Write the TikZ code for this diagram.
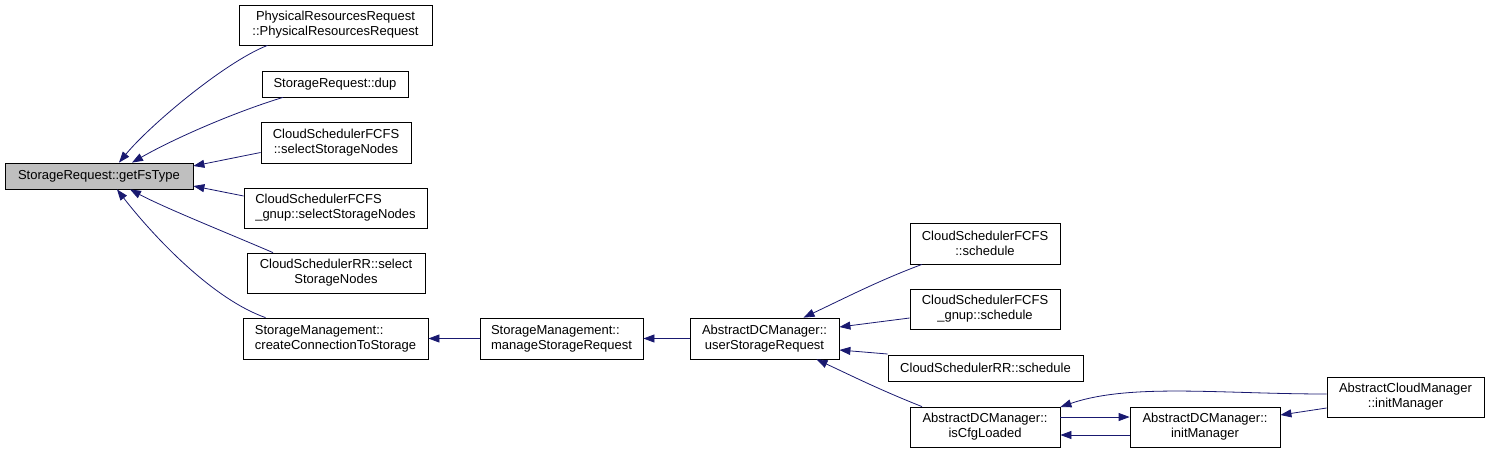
\documentclass[tikz,border=0pt]{standalone}
\usepackage{fontspec}
\setmainfont{Liberation Sans}
\usetikzlibrary{arrows.meta,calc}
\definecolor{edgecol}{HTML}{191970}
\definecolor{hlcol}{HTML}{BFBFBF}
\begin{document}
\begin{tikzpicture}[x=1pt,y=-1pt,
  box/.style={draw=black,line width=0.8pt,inner sep=0pt,font=\fontsize{13}{15}\selectfont,align=center},
  lbox/.style={box,align=left},
  arr/.style={draw=edgecol,line width=0.8pt,-{Triangle[length=11pt,width=8pt]}}]
\useasboundingbox (0,0) rectangle (1488,452);
% nodes
\node[box,minimum width=188pt,minimum height=26pt,fill=hlcol] (get) at (99,176) {StorageRequest::getFsType};
\node[box,minimum width=193pt,minimum height=40pt] (phys) at (335.5,25) {PhysicalResourcesRequest\\::PhysicalResourcesRequest};
\node[box,minimum width=146pt,minimum height=26pt] (dup) at (335,84) {StorageRequest::dup};
\node[box,minimum width=150pt,minimum height=41pt] (fsel) at (336,142.5) {CloudSchedulerFCFS\\::selectStorageNodes};
\node[lbox,minimum width=183pt,minimum height=40pt] (gsel) at (335.5,208) {CloudSchedulerFCFS\\\_gnup::selectStorageNodes};
\node[box,minimum width=178pt,minimum height=40pt] (rsel) at (336,273) {CloudSchedulerRR::select\\StorageNodes};
\node[lbox,minimum width=185pt,minimum height=41pt] (cc) at (335.5,338.5) {StorageManagement::\\createConnectionToStorage};
\node[lbox,minimum width=163pt,minimum height=41pt] (msr) at (561.5,338.5) {StorageManagement::\\manageStorageRequest};
\node[box,minimum width=149pt,minimum height=41pt] (usr) at (764.5,338.5) {AbstractDCManager::\\userStorageRequest};
\node[box,minimum width=150pt,minimum height=41pt] (fsch) at (985,243.5) {CloudSchedulerFCFS\\::schedule};
\node[box,minimum width=150pt,minimum height=40pt] (gsch) at (985,309) {CloudSchedulerFCFS\\\_gnup::schedule};
\node[box,minimum width=195pt,minimum height=26pt] (rsch) at (985.5,368) {CloudSchedulerRR::schedule};
\node[box,minimum width=150pt,minimum height=40pt] (cfg) at (985,427) {AbstractDCManager::\\isCfgLoaded};
\node[box,minimum width=150pt,minimum height=40pt] (dci) at (1205,427) {AbstractDCManager::\\initManager};
\node[box,minimum width=157pt,minimum height=40pt] (cmi) at (1405.5,397) {AbstractCloudManager\\::initManager};
% edges
\draw[arr] ($(phys.south)+(-68,0)$) .. controls (225,62) and (150,125) .. ($(get.north)+(20,0)$);
\draw[arr] ($(dup.south)+(-52,0)$) .. controls (235,112) and (175,138) .. ($(get.north)+(33,0)$);
\draw[arr] ($(fsel.west)+(0,10)$) -- ($(get.east)+(0,-10)$);
\draw[arr] ($(gsel.west)+(0,-12)$) -- ($(get.east)+(0,10)$);
\draw[arr] ($(rsel.north)+(-63,0)$) .. controls (225,232) and (165,208) .. ($(get.south)+(31,0)$);
\draw[arr] ($(cc.north)+(-70,0)$) .. controls (210,298) and (150,232) .. ($(get.south)+(18,0)$);
\draw[arr] (msr.west) -- (cc.east);
\draw[arr] (usr.west) -- (msr.east);
\draw[arr] ($(fsch.south)+(-63,0)$) .. controls (880,280) and (845,298) .. ($(usr.north)+(39,0)$);
\draw[arr] ($(gsch.west)+(0,9)$) -- ($(usr.east)+(0,-11.5)$);
\draw[arr] ($(rsch.west)+(0,-14)$) -- ($(usr.east)+(0,11.5)$);
\draw[arr] ($(cfg.north)+(-63,0)$) .. controls (880,390) and (850,375) .. ($(usr.south)+(52,0)$);
\draw[arr] ($(cmi.west)+(0,-3)$) .. controls (1220,394) and (1130,383) .. ($(cfg.east)+(0,-20)$);
\draw[arr] ($(cfg.east)+(0,-10)$) -- ($(dci.west)+(0,-10)$);
\draw[arr] ($(dci.west)+(0,8)$) -- ($(cfg.east)+(0,8)$);
\draw[arr] ($(cmi.west)+(0,11)$) -- ($(dci.east)+(0,-12)$);
\end{tikzpicture}
\end{document}
